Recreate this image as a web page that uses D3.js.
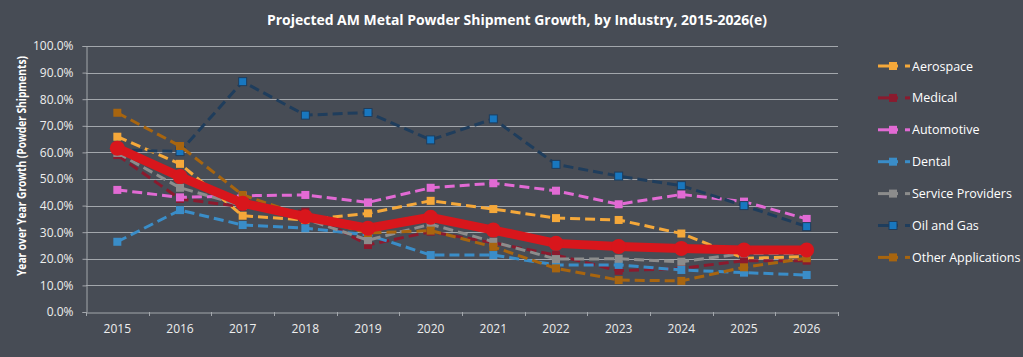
<!DOCTYPE html>
<html>
<head>
<meta charset="utf-8">
<script src="https://cdn.jsdelivr.net/npm/d3@7"></script>
<style>
  html, body { margin: 0; padding: 0; background: #474c55; }
  svg { display: block; }
  text { font-family: "Open Sans", "DejaVu Sans", sans-serif; }
</style>
</head>
<body>
<svg id="chart" width="1023" height="357"></svg>
<script>
const years = ["2015","2016","2017","2018","2019","2020","2021","2022","2023","2024","2025","2026"];
const yTicks = [0, 0.1, 0.2, 0.3, 0.4, 0.5, 0.6, 0.7, 0.8, 0.9, 1.0];

const aerospace   = [0.659, 0.557, 0.362, 0.346, 0.371, 0.418, 0.387, 0.353, 0.346, 0.295, 0.202, 0.208];
const medical     = [0.590, 0.425, 0.396, 0.377, 0.252, 0.302, 0.260, 0.214, 0.155, 0.164, 0.193, 0.193];
const automotive  = [0.459, 0.431, 0.437, 0.440, 0.412, 0.467, 0.484, 0.456, 0.405, 0.442, 0.415, 0.350];
const dental      = [0.264, 0.383, 0.327, 0.315, 0.290, 0.214, 0.214, 0.177, 0.177, 0.158, 0.148, 0.139];
const services    = [0.598, 0.467, 0.400, 0.350, 0.270, 0.330, 0.264, 0.199, 0.200, 0.189, 0.220, 0.220];
const oilGas      = [0.610, 0.603, 0.866, 0.740, 0.750, 0.647, 0.726, 0.555, 0.511, 0.475, 0.400, 0.321];
const otherApps   = [0.749, 0.624, 0.440, 0.360, 0.297, 0.306, 0.245, 0.164, 0.120, 0.117, 0.168, 0.202];
const total       = [0.616, 0.509, 0.409, 0.358, 0.315, 0.356, 0.308, 0.258, 0.246, 0.239, 0.233, 0.233];

const seriesNames  = ["Aerospace","Medical","Automotive","Dental","Service Providers","Oil and Gas","Other Applications"];
const seriesValues = [aerospace, medical, automotive, dental, services, oilGas, otherApps];
const lineColors   = ["#f5a83a","#8b1a2e","#e26ad4","#3a8dc8","#8c8c8c","#1f3d5c","#a8650f"];
const markColors   = ["#f5a83a","#8b1a2e","#e26ad4","#3a8dc8","#8c8c8c","#1877bf","#a8650f"];

(function () {
const svg = d3.select("#chart");
const pL = 86, pR = 838, pT = 46, pB = 312;

const x = d3.scaleBand().domain(years).range([pL, pR]).padding(0);
const y = d3.scaleLinear().domain([0, 1]).range([pB, pT]);
const cx = d => x(d) + x.bandwidth() / 2;

// title
svg.append("text")
  .attr("x", 517).attr("y", 25)
  .attr("text-anchor", "middle")
  .attr("fill", "#ffffff")
  .attr("font-weight", "bold")
  .attr("font-size", 13.5)
  .attr("textLength", 500)
  .attr("lengthAdjust", "spacingAndGlyphs")
  .text("Projected AM Metal Powder Shipment Growth, by Industry, 2015-2026(e)");

// gridlines
svg.append("g").selectAll("line").data(yTicks.slice(1)).join("line")
  .attr("x1", pL).attr("x2", pR)
  .attr("y1", d => Math.round(y(d)) + 0.5).attr("y2", d => Math.round(y(d)) + 0.5)
  .attr("stroke", "#a3a7ac").attr("stroke-width", 1);

// y axis
const yAxis = svg.append("g").attr("transform", `translate(${pL + 0.5},0)`)
  .call(d3.axisLeft(y).tickValues(yTicks).tickFormat(d3.format(".1%")).tickSize(4).tickPadding(9));
yAxis.select(".domain").attr("stroke", "#a3a7ac");
yAxis.selectAll(".tick line").attr("stroke", "#a3a7ac");
yAxis.selectAll("text").attr("fill", "#eeeeee").attr("font-size", 12)
  .attr("font-family", "'Open Sans', sans-serif");

// x axis
const xAxis = svg.append("g").attr("transform", `translate(0,${pB + 0.5})`)
  .call(d3.axisBottom(x).tickSize(0).tickPadding(12));
xAxis.select(".domain").attr("stroke", "#a3a7ac");
xAxis.selectAll("text").attr("fill", "#eeeeee").attr("font-size", 12)
  .attr("font-family", "'Open Sans', sans-serif");
const bounds = years.map(d => x(d)).concat([pR]);
svg.append("g").selectAll("line").data(bounds).join("line")
  .attr("x1", d => Math.round(d) + 0.5).attr("x2", d => Math.round(d) + 0.5)
  .attr("y1", pB).attr("y2", pB + 4)
  .attr("stroke", "#a3a7ac");

// y axis title
svg.append("text")
  .attr("transform", "translate(26,166) rotate(-90)")
  .attr("text-anchor", "middle")
  .attr("fill", "#ffffff")
  .attr("font-weight", "bold")
  .attr("font-size", 12)
  .attr("textLength", 220)
  .attr("lengthAdjust", "spacingAndGlyphs")
  .text("Year over Year Growth (Powder Shipments)");

const line = d3.line().x((d, i) => cx(years[i])).y(d => y(d));
const ms = 8;

seriesValues.forEach((vals, k) => {
  const g = svg.append("g");
  g.append("path").datum(vals)
    .attr("d", line)
    .attr("fill", "none")
    .attr("stroke", lineColors[k])
    .attr("stroke-width", 3)
    .attr("stroke-dasharray", "10,5");
  g.selectAll("rect").data(vals).join("rect")
    .attr("x", (d, i) => cx(years[i]) - ms / 2)
    .attr("y", d => y(d) - ms / 2)
    .attr("width", ms).attr("height", ms)
    .attr("fill", markColors[k])
    .attr("stroke", k === 5 ? "#1f3d5c" : "none")
    .attr("stroke-width", 1);
});

// total (thick red)
const gt = svg.append("g");
gt.append("path").datum(total)
  .attr("d", line)
  .attr("fill", "none")
  .attr("stroke", "#d8161c")
  .attr("stroke-width", 9)
  .attr("stroke-linejoin", "round");
gt.selectAll("circle").data(total).join("circle")
  .attr("cx", (d, i) => cx(years[i]))
  .attr("cy", d => y(d))
  .attr("r", 7.5)
  .attr("fill", "#d8161c");

// legend
const leg = svg.append("g");
seriesNames.forEach((name, k) => {
  const ly = 66 + k * 31.9;
  const r = leg.append("g");
  r.append("line").attr("x1", 878).attr("x2", 898).attr("y1", ly).attr("y2", ly)
    .attr("stroke", lineColors[k]).attr("stroke-width", 3);
  r.append("rect").attr("x", 889).attr("y", ly - 4).attr("width", 8).attr("height", 8)
    .attr("fill", markColors[k])
    .attr("stroke", k === 5 ? "#1f3d5c" : "none");
  r.append("line").attr("x1", 905).attr("x2", 910).attr("y1", ly).attr("y2", ly)
    .attr("stroke", lineColors[k]).attr("stroke-width", 3);
  r.append("text").attr("x", 912).attr("y", ly + 4.5)
    .attr("fill", "#ffffff").attr("font-size", 12.5)
    .text(name);
});
})();
</script>
</body>
</html>
